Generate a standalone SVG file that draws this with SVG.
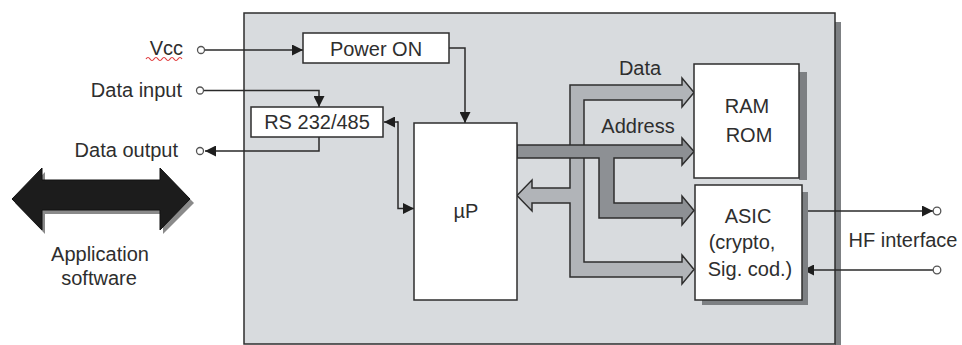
<svg xmlns="http://www.w3.org/2000/svg" width="962" height="345" viewBox="0 0 962 345">
  <defs>
    <style>
      text { font-family: "Liberation Sans", Arial, sans-serif; font-size: 20px; fill: #2e2e2e; }
      .box { fill: #ffffff; stroke: #2e2e2e; stroke-width: 1.5; }
      .shadow { fill: #7d8083; }
      .wire { fill: none; stroke: #2a2a2a; stroke-width: 1.5; }
      .pin { fill: #ffffff; stroke: #555; stroke-width: 1.3; }
      .bus { stroke: #2e2e2e; stroke-width: 1.5; stroke-linejoin: miter; }
    </style>
    <marker id="ah" viewBox="0 0 10 10" refX="10" refY="5" markerWidth="8" markerHeight="8" markerUnits="userSpaceOnUse" orient="auto">
      <path d="M0,0 L10,5 L0,10 z" fill="#1e1e1e"/>
    </marker>
    <marker id="ah2" viewBox="0 0 10 10" refX="10" refY="5" markerWidth="11" markerHeight="11" markerUnits="userSpaceOnUse" orient="auto">
      <path d="M0,0 L10,5 L0,10 z" fill="#1e1e1e"/>
    </marker>
  </defs>

  <!-- main card body -->
  <g id="card">
    <rect class="shadow" x="835" y="22" width="6" height="323"/>
    <rect x="244" y="13" width="591" height="331" fill="#d8dbde" stroke="#2e2e2e" stroke-width="1.5"/>
  </g>

  <!-- connectors -->
  <g id="connectors">
    <!-- Data bus -->
    <polygon class="bus" fill="#b1b4b8" points="570,85 682,85 682,78 694,92.5 682,107 682,100 584,100 584,262 682,262 682,255 694,269.5 682,284 682,277 570,277 570,203 532,203 532,211 517,195.5 532,180 532,188 570,188"/>
    <!-- Address bus -->
    <polygon class="bus" fill="#8d9094" points="517,145 682,145 682,138 694,151.5 682,165 682,158 614,158 614,203 682,203 682,196 694,210.5 682,225 682,218 599,218 599,158 517,158"/>

    <!-- Vcc to Power ON -->
    <line class="wire" x1="205" y1="50" x2="303" y2="50" marker-end="url(#ah2)"/>
    <!-- Power ON to uP -->
    <polyline class="wire" points="449,48 465,48 465,123" marker-end="url(#ah2)"/>
    <!-- Data input to RS -->
    <polyline class="wire" points="204,90.5 319,90.5 319,107" marker-end="url(#ah2)"/>
    <!-- RS to Data output -->
    <polyline class="wire" points="319,137 319,151 205,151" marker-end="url(#ah2)"/>
    <!-- RS <-> uP -->
    <polyline class="wire" points="398,122 384,122" marker-end="url(#ah2)"/>
    <polyline class="wire" points="398,121.3 398,208.5 414,208.5" marker-end="url(#ah2)"/>
    <!-- HF interface -->
    <line class="wire" x1="802" y1="211" x2="933" y2="211" marker-end="url(#ah2)"/>
    <line class="wire" x1="933" y1="270" x2="803" y2="270" marker-end="url(#ah2)"/>

    <!-- pins -->
    <circle class="pin" cx="201" cy="50" r="3.5"/>
    <circle class="pin" cx="200" cy="90.5" r="3.5"/>
    <circle class="pin" cx="200" cy="151" r="3.5"/>
    <circle class="pin" cx="937" cy="211" r="3.8"/>
    <circle class="pin" cx="937" cy="270" r="3.8"/>
  </g>

  <!-- application software double arrow -->
  <g id="app-arrow">
    <polygon fill="#8a8a8a" points="15,203 45,172 45,184 163,184 163,172 194,203 163,234 163,214 45,214 45,234"/>
    <polygon fill="#1c1c1c" stroke="#111" stroke-width="1" points="12,199 42,168 42,180 160,180 160,168 190,199 160,230 160,210 42,210 42,230"/>
    <text x="100" y="261" text-anchor="middle">Application</text>
    <text x="99" y="285" text-anchor="middle">software</text>
  </g>

  <!-- left labels -->
  <g id="label-vcc">
    <text x="183" y="55" text-anchor="end">Vcc</text>
    <path d="M146,59 q2,-3 4,0 t4,0 t4,0 t4,0 t4,0 t4,0 t4,0 t4,0 t4,0" fill="none" stroke="#e0383a" stroke-width="1.2"/>
  </g>
  <g id="label-data-input">
    <text x="182" y="97" text-anchor="end">Data input</text>
  </g>
  <g id="label-data-output">
    <text x="178" y="157" text-anchor="end">Data output</text>
  </g>

  <g id="power-on">
    <rect class="box" x="303" y="33" width="146" height="30"/>
    <text x="376" y="56" text-anchor="middle">Power ON</text>
  </g>

  <g id="rs232">
    <rect class="box" x="251" y="107" width="132" height="30"/>
    <text x="317" y="129" text-anchor="middle">RS 232/485</text>
  </g>

  <g id="up">
    <rect class="box" x="414" y="123" width="103" height="177"/>
    <text x="466" y="218" text-anchor="middle">µP</text>
  </g>

  <g id="ram-rom">
    <rect class="shadow" x="799" y="72" width="8" height="108"/>
    <rect class="box" x="694" y="64" width="105" height="114"/>
    <text x="747" y="113" text-anchor="middle">RAM</text>
    <text x="749" y="142" text-anchor="middle">ROM</text>
  </g>

  <g id="asic">
    <rect class="shadow" x="702" y="192" width="106" height="113"/>
    <rect class="box" x="695" y="185" width="107" height="115"/>
    <text x="748" y="223" text-anchor="middle">ASIC</text>
    <text x="742" y="249" text-anchor="middle">(crypto,</text>
    <text x="750" y="276" text-anchor="middle">Sig. cod.)</text>
  </g>

  <g id="bus-labels">
    <text x="640" y="75" text-anchor="middle">Data</text>
    <text x="638" y="133" text-anchor="middle">Address</text>
  </g>

  <g id="label-hf">
    <text x="903" y="247" text-anchor="middle">HF interface</text>
  </g>
</svg>
